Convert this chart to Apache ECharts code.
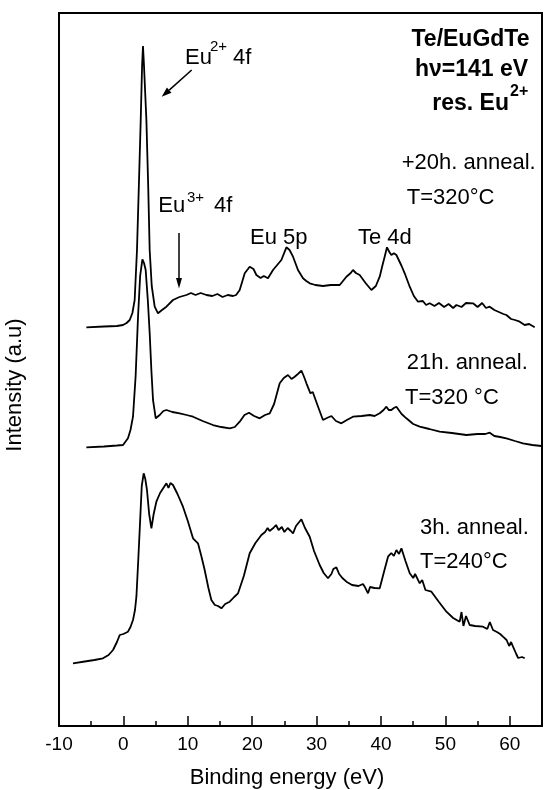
<!DOCTYPE html>
<html><head><meta charset="utf-8">
<script src="https://cdn.jsdelivr.net/npm/echarts@6/dist/echarts.min.js"></script>
<style>html,body{margin:0;padding:0;background:#fff}#c{width:544px;height:790px}</style>
</head><body><div id="c"></div>
<script>
// tick positions (binding energy, eV)
const xMajorTicks = [-10, 0, 10, 20, 30, 40, 50, 60];
const xMinorTicks = [-5, 5, 15, 25, 35, 45, 55];

// Spectra: [binding energy (eV), intensity (a.u., offset stacked)]
const anneal20h320 = [[-5.75,398.7],[-3,399.5],[-1,400],[-0.06,401],[0.5,403],[0.98,406],[1.4,413],[1.75,426],[2.11,476],[2.4,540],[2.69,606],[2.9,660],[3.04,680],[3.2,660],[3.57,606],[3.85,540],[4.08,476],[4.4,440],[4.86,419.3],[5.37,412.7],[6.0,416],[6.68,419.3],[7.7,426],[8.7,429],[9.78,431],[10.5,433],[11.2,431],[12.0,433],[12.89,431],[13.8,430],[14.6,432],[15.4,429],[16.2,431],[17.02,430],[17.5,431],[18.06,436],[18.84,452.7],[19.61,459.3],[20.2,457],[20.65,451],[21.3,448],[21.8,450],[22.45,447.7],[23.23,456],[24.53,466],[25.31,478.7],[25.8,476],[26.34,469.3],[27.11,456],[27.89,447.7],[28.4,445],[28.93,442.7],[29.8,441],[30.99,440],[32.2,441],[33.59,441],[34.63,449.3],[35.3,453],[35.65,456],[36.1,453],[36.69,451],[37.6,443],[38.51,436],[39.2,440],[39.8,449.3],[40.2,460],[40.57,469.3],[40.93,478.7],[41.3,474],[41.61,471],[42.0,472.7],[42.39,471],[42.64,469.3],[43.2,460],[43.68,452.7],[44.46,439.3],[45.1,430],[45.75,424.3],[46.5,425],[47.0,421],[47.56,422.7],[48.3,420],[49.0,423],[49.8,419],[50.5,422],[51.2,418],[51.71,421],[52.5,419],[53.2,423],[54.29,422.7],[55.0,419],[55.7,423],[56.3,418],[56.88,419.3],[57.6,416],[58.3,414],[59.0,412],[59.47,411],[60.2,407],[60.8,406],[61.54,404.3],[62.3,401],[63.0,402],[63.87,398.7]];

const anneal21h320 = [[-5.75,278.7],[-3,279.5],[-1,280.5],[-0.06,281],[0.71,287.7],[1.1,296],[1.49,309.3],[1.9,350],[2.27,409.3],[2.6,450],[2.95,466.7],[3.2,463],[3.46,456],[3.8,425],[4.08,393],[4.35,355],[4.6,326],[5.02,307.7],[5.3,309],[5.64,311],[6.2,315],[6.68,316],[7.6,314],[8.74,312.7],[9.8,311],[10.81,309.3],[12.3,305],[13.91,301],[15.2,299],[16.51,297.7],[17.3,299],[18.06,304.3],[18.8,311],[19.5,313.3],[20.3,310],[21.16,307.7],[22.0,311],[22.72,312.7],[23.4,322],[24.27,342.7],[24.9,348],[25.56,351],[26.1,347],[26.6,349.3],[27.1,352],[27.64,355.3],[28.0,350],[28.42,342.7],[29.04,332.7],[29.4,334],[29.7,333.3],[30.3,318],[30.99,306],[31.6,308],[32.3,310],[33.0,305],[33.85,302.7],[34.7,306],[35.65,309.3],[37.0,310],[38.25,311],[39.0,310],[39.8,312.7],[40.4,316],[40.84,319.3],[41.2,316],[41.61,316],[42.0,318],[42.39,319.3],[43.2,312],[43.94,307.7],[45.0,302],[46.01,299.3],[47.5,297],[49.11,294.3],[51.0,293],[53.26,291],[55.0,292],[56.2,292],[56.88,293.3],[57.6,290],[58.5,289],[59.47,287.7],[60.8,285],[62.05,282.7],[63.5,281],[64.91,280]];

const anneal3h240 = [[-7.83,62.7],[-6,64.5],[-4.5,66],[-3.17,67.7],[-2.3,71],[-1.61,76],[-1.0,84],[-0.57,91],[0,92],[0.71,94.3],[1.1,99],[1.49,106],[1.8,116],[2.02,129.3],[2.3,165],[2.53,196],[2.85,240],[3.15,252.7],[3.4,247],[3.66,236],[4.0,212],[4.35,197.7],[4.7,212],[5.12,224.3],[5.7,233],[6.2,238],[6.68,242.7],[7.0,238],[7.3,243],[7.7,241],[8.4,232],[9.25,219.3],[10.0,205],[10.81,187.7],[11.58,182.7],[12.1,170],[12.62,156],[13.2,138],[13.66,126],[14.2,121],[14.7,120],[15.22,117.7],[15.8,122],[16.51,124.3],[17.2,129],[17.8,132.7],[18.7,150],[19.61,172.7],[20.5,183],[21.43,191],[22.0,194],[22.4,198],[22.7,195],[23.23,197.7],[23.7,201],[24.1,196],[24.6,199],[25.0,194],[25.5,198],[26.0,195],[26.34,192.7],[26.8,200],[27.3,204],[27.64,206.7],[28.2,198],[28.93,189.3],[29.6,175],[30.48,161],[31.1,153],[31.77,147.7],[32.3,152],[32.6,157],[33.07,158.7],[33.5,152],[34.0,148],[34.63,144.3],[35.5,141],[36.5,140],[37.2,142],[37.47,139.3],[37.98,132.7],[38.3,139],[39.0,138],[39.8,137.7],[40.5,155],[41.09,169.3],[41.6,173],[42.0,170],[42.39,176],[42.8,172],[43.17,177.7],[43.8,165],[44.46,152.7],[45.0,148],[45.3,152],[46.01,142.7],[46.4,146],[46.9,136],[47.83,134.3],[49.0,124],[50.16,114.3],[51.2,108],[52.22,104.3],[52.5,114],[52.8,100],[53.2,110],[53.77,101],[54.6,100],[55.84,99.3],[56.5,97],[56.9,104],[57.39,96],[58.0,94],[58.5,92],[58.94,89.3],[59.5,86],[59.9,80],[60.2,84],[60.5,79.3],[61.0,72],[61.3,68],[61.54,66],[61.9,69],[62.31,67.7]];

const FONT = '"Liberation Sans", Arial, Helvetica, sans-serif';

function T(text, x, y, size, weight, align) {
  return {
    type: 'text', x: x, y: y, z: 100,
    style: {
      text: text, fill: '#000',
      fontSize: size, fontFamily: FONT, fontWeight: weight || 'normal',
      align: align || 'left', textAlign: align || 'left',
      verticalAlign: 'middle', textVerticalAlign: 'middle'
    }
  };
}

function lineSeries(name, data) {
  return {
    name: name, type: 'line', data: data, showSymbol: false, symbol: 'none',
    smooth: false, lineStyle: { color: '#000', width: 1.8 }, itemStyle: { color: '#000' },
    z: 5, silent: true
  };
}

const chart = echarts.init(document.getElementById('c'), null, { renderer: 'canvas' });
chart.setOption({
  animation: false,
  backgroundColor: '#fff',
  grid: { left: 59, right: 2, top: 13, bottom: 64, show: true, borderColor: '#000', borderWidth: 2, backgroundColor: 'transparent' },
  xAxis: [{
    type: 'value', min: -10, max: 65, position: 'bottom',
    axisLine: { show: true, lineStyle: { color: '#000', width: 2 } },
    axisTick: { show: true, inside: true, length: 10, customValues: xMajorTicks, lineStyle: { color: '#000', width: 1.5 } },
    axisLabel: { customValues: xMajorTicks, color: '#000', fontSize: 19, fontFamily: FONT, margin: 9 },
    splitLine: { show: false }
  }, {
    type: 'value', min: -10, max: 65, position: 'bottom',
    axisLine: { show: false },
    axisTick: { show: true, inside: true, length: 5, customValues: xMinorTicks, lineStyle: { color: '#000', width: 1.5 } },
    axisLabel: { show: false },
    splitLine: { show: false }
  }],
  yAxis: { type: 'value', min: 0, max: 713, show: false },
  series: [
    lineSeries('+20h. anneal. T=320°C', anneal20h320),
    lineSeries('21h. anneal. T=320°C', anneal21h320),
    lineSeries('3h. anneal. T=240°C', anneal3h240)
  ],
  graphic: [
    T('Binding energy (eV)', 287, 778, 22, 'normal', 'center'),
    Object.assign(T('Intensity (a.u)', 15, 385, 22, 'normal', 'center'), { rotation: Math.PI / 2 }),
    T('Te/EuGdTe', 470.5, 40, 23, 'bold', 'center'),
    T('h\u03bd=141 eV', 471.5, 70, 23, 'bold', 'center'),
    T('res. Eu', 509, 103.3, 23, 'bold', 'right'),
    T('2+', 510, 91.5, 16, 'bold', 'left'),
    T('Eu', 185, 57.5, 22), T('2+', 210, 47, 15), T('4f', 233, 57.5, 22),
    T('Eu', 158.3, 205.5, 22), T('3+', 187, 197.5, 15), T('4f', 214, 205.5, 22),
    T('Eu 5p', 250, 237.5, 22),
    T('Te 4d', 358, 237.5, 22),
    T('+20h. anneal.', 401.7, 163.3, 22),
    T('T=320\u00b0C', 406.7, 197.5, 22),
    T('21h. anneal.', 406.7, 363.3, 22),
    T('T=320 \u00b0C', 405, 398.3, 22),
    T('3h. anneal.', 420, 528.3, 22),
    T('T=240\u00b0C', 420, 562, 22),
    { type: 'line', z: 100, shape: { x1: 191.7, y1: 70, x2: 169.2, y2: 90.1 }, style: { stroke: '#000', lineWidth: 1.5 } },
    { type: 'polygon', z: 100, shape: { points: [[161.7, 96.7], [171.5, 92.7], [166.9, 87.5]] }, style: { fill: '#000' } },
    { type: 'line', z: 100, shape: { x1: 179, y1: 233, x2: 179, y2: 279 }, style: { stroke: '#000', lineWidth: 1.5 } },
    { type: 'polygon', z: 100, shape: { points: [[179, 288.5], [176, 278], [182, 278]] }, style: { fill: '#000' } }
  ]
});
</script></body></html>
